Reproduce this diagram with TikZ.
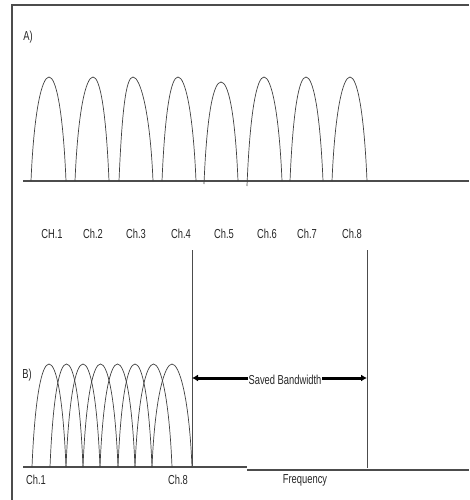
\documentclass[tikz,border=0pt]{standalone}
\usepackage{fontspec}
\setmainfont{Liberation Sans}[FakeStretch=0.72]
\usetikzlibrary{arrows.meta}
\begin{document}
\begin{tikzpicture}[x=1pt,y=-1pt,
  lbl/.style={font=\fontsize{13}{15}\selectfont, inner sep=0pt, text=black!85},
  frameline/.style={line width=1.6pt, draw=black!70},
  baseline/.style={line width=1.4pt, draw=black!70},
  archline/.style={line width=0.7pt, draw=black!75},
  marker/.style={line width=0.8pt, draw=black!70},
  bwarrow/.style={line width=3pt, draw=black, {Latex[length=6pt,width=7pt]}-{Latex[length=6pt,width=7pt]}}]
\useasboundingbox (0,0) rectangle (469,500);
% frame
\coordinate (tl) at (12,5);
\coordinate (tr) at (469,5);
\coordinate (bl) at (12,500);
\draw[frameline] (tr) -- (tl) -- (bl);
% panel A
\node[lbl] (labA) at (28,37) {A)};
\coordinate (a0) at (23,181);
\coordinate (a1) at (469,181);
\draw[baseline] (a0) -- (a1);
\foreach \s/\e/\p/\h/\f in {31/66/49/77/181, 75/109/93/77/181, 119/153/133/77/181, 162/196/178/77/181,
                          204/238/221/82/184, 247/282/264/77/186, 290/323/306/77/181, 332/367/350/77/181}{
  \draw[archline] (\s,\f) .. controls (\s+3,110) and (\p-7,\h) .. (\p,\h)
                           .. controls (\p+7,\h) and (\e-3,110) .. (\e,181);
}
\foreach \x/\t [count=\i] in {52/CH.1, 93/Ch.2, 136/Ch.3, 181/Ch.4, 224/Ch.5, 267/Ch.6, 307/Ch.7, 352/Ch.8}{
  \node[lbl] (chA\i) at (\x,234) {\t};
}
% panel B
\node[lbl] (labB) at (27,375) {B)};
\coordinate (b0) at (23,467);
\coordinate (b1) at (247,467);
\coordinate (b2) at (247,470);
\coordinate (b3) at (469,470);
\draw[baseline] (b0) -- (b1);
\draw[baseline] (b2) -- (b3);
\foreach \s/\e in {32/66, 50/83, 66/100, 83/118, 100/135, 118/152, 135/172, 152/192}{
  \pgfmathsetmacro{\p}{(\s+\e)/2}
  \draw[archline] (\s,467) .. controls (\s+3,395) and (\p-7,364) .. (\p,364)
                           .. controls (\p+7,364) and (\e-3,395) .. (\e,467);
}
\node[lbl] (chB1) at (36,480) {Ch.1};
\node[lbl] (chB8) at (178,480) {Ch.8};
\node[lbl] (freq) at (305,480) {Frequency};
% markers
\coordinate (m1t) at (192,250);
\coordinate (m1b) at (192,467);
\coordinate (m2t) at (367,250);
\coordinate (m2b) at (367,468);
\draw[marker] (m1t) -- (m1b);
\draw[marker] (m2t) -- (m2b);
\coordinate (arL) at (192,378);
\coordinate (arR) at (367,378);
\draw[bwarrow] (arL) -- (arR);
\node[lbl, fill=white, inner sep=1pt] (saved) at (285,380) {Saved Bandwidth};
\end{tikzpicture}
\end{document}
